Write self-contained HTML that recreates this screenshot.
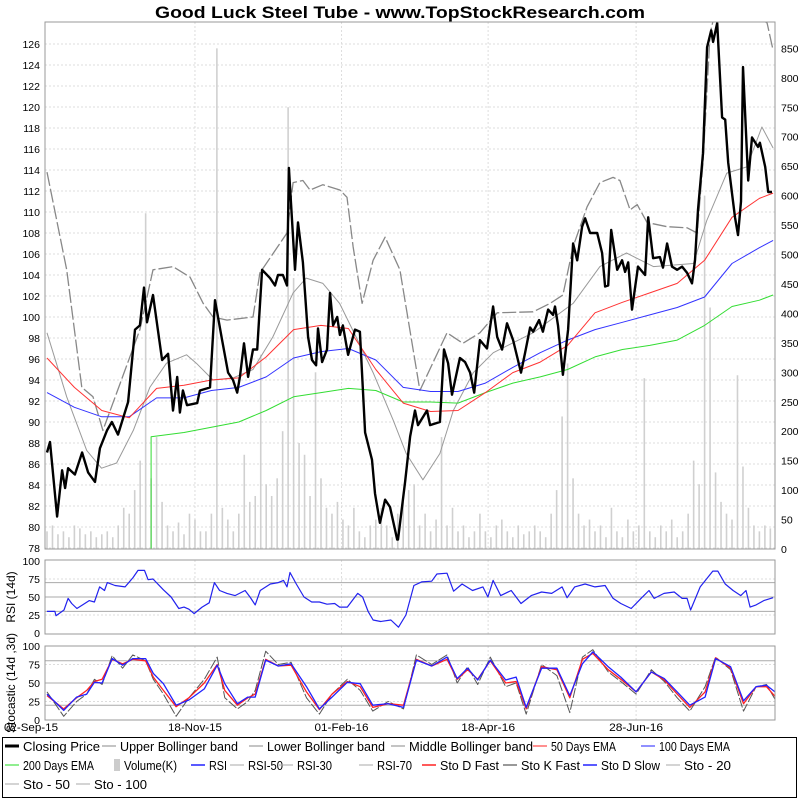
<!DOCTYPE html>
<html><head><meta charset="utf-8"><title>Good Luck Steel Tube chart</title>
<style>
html,body{margin:0;padding:0;background:#fff;}
svg{display:block;font-family:"Liberation Sans",sans-serif;}
</style></head>
<body>
<svg id="chart" width="800" height="800" viewBox="0 0 800 800" xmlns="http://www.w3.org/2000/svg">
<rect x="0" y="0" width="800" height="800" fill="#fff"/>
<text x="400" y="18" text-anchor="middle" font-size="17" font-weight="bold" textLength="490" lengthAdjust="spacingAndGlyphs">Good Luck Steel Tube - www.TopStockResearch.com</text>
<g id="main"></g>
<g id="rsi"></g>
<g id="sto"></g>
<g id="legend"></g>
</svg>
<script>
const priceDays=[0,1.1,3.7,5.5,6.6,7.7,10.2,12.8,15,17.5,19.3,21.9,23.7,25.9,29.6,32.1,33.9,35.4,36.5,38.7,42,44.2,46,47.5,48.5,49.6,51.1,54.8,55.8,58.4,59.5,61.3,63.9,66.1,67.9,69.4,70.4,71.9,73.4,75.2,76.7,78.5,81.4,83.2,84.3,86.1,87.6,88.3,90.5,91.6,93.4,95.3,96.7,98.2,98.9,100.4,102.2,103.3,104.4,105.9,106.9,108,109.9,112.4,114.2,116.1,118.6,119.7,121.5,123.4,125.2,127.8,128.1,130.7,132.5,134.3,135.4,138.7,139.8,143.4,144.9,146.4,147.8,150.7,152.6,154.4,155.9,158,160.6,162.8,164.3,166.1,167.9,170.1,173,174.5,176.3,177.4,179.6,181,182.9,184.7,185.4,186.5,188.3,190.2,192,193.5,195.3,196.4,198.2,200.8,202.6,203.7,204.8,205.9,208.1,209.9,211,212.1,213.5,215.7,218.3,219.4,221.2,223.7,224.8,226.3,228.1,230,231.8,233.6,235.4,236.5,237.6,239.4,240.9,242.4,243.1,244.6,246.4,247.5,248.6,251.1,252.2,253.3,254,255.9,257.3,259.5,260.2,262.1,263.2,264.6];
const price=[87.1,88.1,81,85.4,83.7,85.6,85,87.1,85.2,84.3,87.5,89.2,90,88.8,91.9,98.8,99.2,102.8,99.5,102.1,95.9,96.5,91.1,94.3,90.9,93,91.6,91.8,93,93.2,93.3,101.6,97.8,94.7,94,92.8,94.3,97.5,94.3,96.9,96.9,104.5,103.7,103,104,104,103,114.2,104.5,109,105.2,98.1,95.9,95.4,98.9,95.7,96.9,102.3,99.2,100,98.3,99.2,96.4,98.8,98.6,89,86.4,83.2,80.4,82.6,81.9,78.8,78.8,84.3,88.6,91.1,89.7,91.1,89.7,90,96.9,95.6,92.6,96.1,95.7,94.7,92.8,97.8,97,101,98.1,96.9,99.4,97.8,94.7,96.6,99,98.6,99.7,98.6,100.7,100.2,101,99.2,94.5,98.8,107,105.4,108.6,109.4,108,108,106.1,102.9,103,108.3,104.5,105.4,104.3,105.2,100.7,104.8,104,109.5,105.6,105.7,104.7,107,104.8,104.5,104.8,104.2,103.2,105.4,110.2,115.6,125.7,127.3,126.2,128,119,118.8,114.7,109.5,107.8,111,123.8,113,117.1,116.2,116.6,114.3,111.9,111.9];
const emaDays=[0,10,20,30,40,50,60,70,80,90,100,110,120,130,140,150,160,170,180,190,200,210,220,230,240,250,260,265];
const ema50=[96.1,93.3,91.1,90.4,93.2,93.5,94,94.2,96.2,98.8,99.2,98.9,95,91.8,91,91.1,92.8,94.7,95.7,97.3,100.4,101.4,102.3,103.2,105.4,109.5,111.3,111.8];
const ema100=[92.8,91.4,90.5,90.5,92.3,92.3,93,93.3,94.3,96.1,96.7,97,95.9,93.3,92.9,92.9,93.7,95.2,96.6,97.8,98.8,99.5,100.2,100.9,101.9,105.1,106.6,107.3];
const ema200Days=[38,38,50,60,70,80,90,100,110,120,130,140,150,160,170,180,190,200,210,220,230,240,250,260,265];
const ema200=[77,88.6,89,89.5,90,91.1,92.4,92.8,93.2,93,91.9,91.9,91.8,92.8,93.7,94.3,95,96.2,96.9,97.3,97.8,99.2,101,101.6,102.1];
const upperDays=[0,7.2,12.7,16.8,20.4,33.9,38.7,46,52.2,57,60.6,65.7,75.2,77.7,87.6,89.8,93.4,96,100.7,106.9,109.5,111.7,115,119,123.4,128.8,136.1,146,151.8,158,164.3,177.4,183.6,188.3,192,197.1,201.8,206.6,209.1,212.8,215.4,219,226.3,233.6,237.3,239.4,242,245.6,262.8,265];
const upper=[113.8,104.5,93.3,92.4,89.2,98.8,104.5,104.8,103.8,101.3,100,99.7,100,104.2,108,112.8,113,112.1,112.6,112.1,111.4,106.7,101.3,105.4,107.6,104.5,93,98.5,97.5,98.5,100.4,100.5,101.3,102.1,106.7,110.5,112.8,113.3,113,110.2,110.7,109,108.6,108.5,108,114.7,127,131,128,125.4];
const middleDays=[0,7.2,14.5,19.9,25.4,31.5,37.5,43.6,50.9,54.5,60.6,67.9,75.2,82.4,89.8,94.6,100.7,106.8,112.8,119,126.3,131.1,137.2,143.4,148.3,155.6,162.9,177.4,192,201.8,211.5,221.3,235.9,240.8,248.1,255.4,260.9,265];
const middle=[98.5,92.4,87.3,85.6,86.1,89.2,93.3,95.6,96.4,95.6,94,94.2,95,98.1,102.3,103.7,103.2,101.3,98.1,94.7,90.2,87,84.5,87,91.1,94.7,96.6,98.5,101.3,104.8,106.1,104.8,105.1,109.2,113.7,114.3,118.1,116.1];
const volume=[30,40,25,30,20,40,35,25,30,20,25,30,20,40,70,60,100,150,570,120,190,80,40,30,45,25,60,50,30,30,60,850,70,50,30,60,160,80,90,330,110,90,120,200,750,460,180,160,90,300,120,70,60,80,50,40,70,30,20,40,50,70,40,20,60,80,100,110,40,60,30,50,190,40,70,30,40,20,30,60,30,20,40,50,30,20,40,25,30,40,30,20,60,100,225,315,120,60,40,50,30,40,20,70,30,20,50,30,40,290,30,20,40,30,50,20,30,60,150,110,600,410,130,80,60,50,295,140,70,40,30,40,35];
const priceTicks=[78,80,82,84,86,88,90,92,94,96,98,100,102,104,106,108,110,112,114,116,118,120,122,124,126];
const volTicks=[0,50,100,150,200,250,300,350,400,450,500,550,600,650,700,750,800,850];
const dateLabels=["02-Sep-15","18-Nov-15","01-Feb-16","18-Apr-16","28-Jun-16"];
const dateDays=[0,54,107.5,161,215];
const rsiDays=[0,2.9,3.3,6.2,7.7,9,10.9,13,15.4,17.3,19.2,21,22,24.8,28.5,31.4,33.2,35.6,36.9,38.7,42.5,45.3,48.1,50,51.8,53.7,56.6,59.2,61.1,63,65.7,68.6,72.3,74.1,76,77.8,81.5,84.4,86.3,87.6,88.7,91,93.8,96.6,99.4,102.2,105,106.8,109.6,113.4,115.2,117.2,119,121.8,125.5,128.3,131,133.9,136.7,140.4,142.3,146,148.4,151.5,155.3,159.1,160.9,162.8,165.6,169.4,173,176.7,180.5,184.2,188,189.8,192.6,196.4,200,203.7,206.6,209.4,213.2,216.8,219.7,221.6,225.2,228.9,231.8,233.6,234.9,238.4,243,244.8,247.5,250.4,253.2,255.1,256.6,258.8,261.6,265];
const rsi=[30,30,24,32,48,41,34,39,45,43,64,59,70,66,64,77,87,87,74,75,60,50,34,36,33,27,36,42,70,59,55,52,59,50,39,59,68,70,73,64,84,68,50,43,43,40,41,36,36,55,50,30,18,16,18,8,25,66,71,72,82,83,58,68,59,64,50,73,52,59,41,52,57,55,64,49,64,68,64,66,48,41,34,48,59,48,55,57,48,48,32,64,86,86,68,59,52,59,36,39,45,49];
const rsiTicks=[0,25,50,75,100];
const stoDays=[0,6.1,10.8,14.5,17.3,20.1,23.8,27.6,31.3,36,38.8,42.5,47.1,51.8,57.4,62.1,64.9,69.5,73.3,76,79.8,84.4,89.1,94.7,99.4,104,109.6,114.3,118.9,124.5,130.1,134.8,140.4,146,149.7,153.5,157.2,161.8,167.4,171.2,174.9,180.5,186.1,190.8,195.4,199.2,204.8,209.4,215,220.6,225.3,230,234.6,240.2,244,249.5,254.2,258.8,262.6,265.7];
const stoDSlow=[35,13,31,35,51,50,83,74,83,83,63,49,20,27,42,74,49,22,31,31,81,73,76,45,15,31,51,49,20,22,17,81,73,85,56,70,54,81,54,58,17,70,70,33,76,92,72,58,38,65,56,38,20,31,83,72,26,45,47,38];
const stoDFast=[33,15,30,40,52,55,82,76,82,80,58,40,18,30,50,75,40,20,30,35,82,73,74,38,14,35,52,45,17,22,20,82,73,82,55,68,55,80,50,52,15,72,68,30,82,90,68,55,38,65,54,35,17,38,84,70,22,45,45,32];
const stoKFast=[38,5,25,35,55,48,87,70,88,80,55,35,5,30,55,85,30,15,25,40,93,75,78,30,8,35,55,40,12,25,15,88,75,88,50,72,48,85,45,50,8,75,60,10,85,95,65,52,35,68,52,30,12,45,85,68,12,45,48,28];
const stoTicks=[0,25,50,75,100];

const NS="http://www.w3.org/2000/svg";
const L=45,R=775;
const xDay=d=>47+d*2.74;
const yPrice=p=>548-(p-78)*10.5;
const yVol=v=>549-v*0.589;
const yRsi=v=>633-v*0.72;
const ySto=v=>720-v*0.74;
function mk(parent,tag,attrs){const e=document.createElementNS(NS,tag);for(const k in attrs)e.setAttribute(k,attrs[k]);parent.appendChild(e);return e;}
function pathD(xs,ys,fx,fy){return xs.map((d,i)=>(i?'L':'M')+fx(d).toFixed(1)+','+fy(ys[i]).toFixed(1)).join('');}

const main=document.getElementById('main');
const rsiG=document.getElementById('rsi');
const stoG=document.getElementById('sto');
const legend=document.getElementById('legend');

const defs=mk(document.getElementById('chart'),'defs',{});
const cp=mk(defs,'clipPath',{id:'clipMain'});mk(cp,'rect',{x:L,y:22,width:R-L,height:527});
const cp2=mk(defs,'clipPath',{id:'clipRsi'});mk(cp2,'rect',{x:L,y:560,width:R-L,height:75});
const cp3=mk(defs,'clipPath',{id:'clipSto'});mk(cp3,'rect',{x:L,y:646,width:R-L,height:75});

priceTicks.forEach(t=>{
  const g=mk(main,'line',{x1:L,x2:R,y1:yPrice(t),y2:yPrice(t),stroke:'#ddd','stroke-dasharray':'2,2'});
  
  
  const tx=mk(main,'text',{x:40,y:yPrice(t)+4,'text-anchor':'end','font-size':'10.5'});
  tx.textContent=t;
  
  
});
volTicks.forEach(t=>{
  const tx=mk(main,'text',{x:781,y:yVol(t)+4,'font-size':'10.5'});
  tx.textContent=t;
  
  
});
[main,rsiG,stoG].forEach((g,pi)=>{
  const y1=[22,560,646][pi],y2=[549,634,720][pi];
  dateDays.forEach(d=>{
    if(d===0)return;
    const l=mk(g,'line',{x1:xDay(d),x2:xDay(d),y1:y1,y2:y2,stroke:'#ddd','stroke-dasharray':'2,2'});
    
    
  });
});

const mc=mk(main,'g',{'clip-path':'url(#clipMain)'});
volume.forEach((v,i)=>{
  const b=mk(mc,'rect',{x:xDay(i*2)-0.8,y:yVol(v),width:1.6,height:549-yVol(v),fill:'#d0d0d0'});
  
  
});
function line(g,xs,ys,fx,fy,attrs,name){
  const p=mk(g,'path',Object.assign({d:pathD(xs,ys,fx,fy),fill:'none','stroke-linejoin':'round'},attrs));
  
  
  return p;
}
line(mc,upperDays,upper,xDay,yPrice,{stroke:'#888','stroke-width':1.3,'stroke-dasharray':'14,3'},'upper-bollinger-band');
line(mc,middleDays,middle,xDay,yPrice,{stroke:'#9a9a9a','stroke-width':1},'middle-bollinger-band');
line(mc,ema200Days,ema200,xDay,yPrice,{stroke:'#33dd33','stroke-width':1},'ema-200-line');
line(mc,emaDays,ema100,xDay,yPrice,{stroke:'#3333ff','stroke-width':1},'ema-100-line');
line(mc,emaDays,ema50,xDay,yPrice,{stroke:'#ff3333','stroke-width':1},'ema-50-line');
line(mc,priceDays,price,xDay,yPrice,{stroke:'#000','stroke-width':2.4},'closing-price-line');
const f1=mk(main,'rect',{x:L,y:22,width:R-L,height:527,fill:'none',stroke:'#999'});



rsiTicks.forEach(t=>{
  if(t>0&&t<100){const g=mk(rsiG,'line',{x1:L,x2:R,y1:yRsi(t),y2:yRsi(t),stroke:'#ddd','stroke-dasharray':'2,2'});
  }
  const tx=mk(rsiG,'text',{x:40,y:yRsi(t)+4,'text-anchor':'end','font-size':'10.5'});
  tx.textContent=t;
  
  
});
[30,50,70].forEach(t=>{
  const g=mk(rsiG,'line',{x1:L,x2:R,y1:yRsi(t),y2:yRsi(t),stroke:'#aaa'});
  
  
});
const rc=mk(rsiG,'g',{'clip-path':'url(#clipRsi)'});
line(rc,rsiDays,rsi,xDay,yRsi,{stroke:'#2222ee','stroke-width':1.2},'rsi-line');
const f2=mk(rsiG,'rect',{x:L,y:560,width:R-L,height:74,fill:'none',stroke:'#999'});


const rl=mk(rsiG,'text',{x:0,y:0,transform:'translate(15,597) rotate(-90)','text-anchor':'middle','font-size':'12'});
rl.textContent='RSI (14d)';



stoTicks.forEach(t=>{
  if(t>0&&t<100){const g=mk(stoG,'line',{x1:L,x2:R,y1:ySto(t),y2:ySto(t),stroke:'#ddd','stroke-dasharray':'2,2'});
  }
  const tx=mk(stoG,'text',{x:40,y:ySto(t)+4,'text-anchor':'end','font-size':'10.5'});
  tx.textContent=t;
  
  
});
[20,50,80].forEach(t=>{
  const g=mk(stoG,'line',{x1:L,x2:R,y1:ySto(t),y2:ySto(t),stroke:'#aaa'});
  
  
});
const sc=mk(stoG,'g',{'clip-path':'url(#clipSto)'});
line(sc,stoDays,stoKFast,xDay,ySto,{stroke:'#555','stroke-width':1,'stroke-dasharray':'10,2'},'sto-k-fast-line');
line(sc,stoDays,stoDFast,xDay,ySto,{stroke:'#ff2222','stroke-width':1.3},'sto-d-fast-line');
line(sc,stoDays,stoDSlow,xDay,ySto,{stroke:'#2222ff','stroke-width':1.3},'sto-d-slow-line');
const f3=mk(stoG,'rect',{x:L,y:646,width:R-L,height:74,fill:'none',stroke:'#999'});


const sl=mk(stoG,'text',{x:0,y:0,transform:'translate(15,683) rotate(-90)','text-anchor':'middle','font-size':'12'});
sl.textContent='Stocastic (14d ,3d)';


dateLabels.forEach((lab,i)=>{
  const x=xDay(dateDays[i]);
  const tx=mk(stoG,'text',{x:i===0?4:x,y:731,'text-anchor':i===0?'start':'middle','font-size':'11',textLength:'54',lengthAdjust:'spacingAndGlyphs'});
  tx.textContent=lab;
  
  
});

const lf=mk(legend,'rect',{x:2.5,y:737.5,width:794,height:60,fill:'#fff',stroke:'#000'});


const items=[
 ['Closing Price',23,750,'#000',3,'line'],['Upper Bollinger band',120,750,'#888',1,'line'],['Lower Bollinger band',267,750,'#888',1,'line'],['Middle Bollinger band',409,750,'#888',1,'line'],['50 Days EMA',551,750,'#ff2222',1,'line'],['100 Days EMA',659,750,'#2222ff',1,'line'],
 ['200 Days EMA',23,769,'#22dd22',1,'line'],['Volume(K)',124,769,'#ccc',6,'box'],['RSI',209,769,'#2222ff',1.5,'line'],['RSI-50',248,769,'#aaa',1,'line'],['RSI-30',297,769,'#aaa',1,'line'],['RSI-70',377,769,'#aaa',1,'line'],['Sto D Fast',440,769,'#ff2222',1.5,'line'],['Sto K Fast',521,769,'#333',1,'line'],['Sto D Slow',601,769,'#2222ff',1.5,'line'],['Sto - 20',684,769,'#aaa',1,'line'],
 ['Sto - 50',23,788,'#aaa',1,'line'],['Sto - 100',94,788,'#aaa',1,'line']];
items.forEach(it=>{
  const g=mk(legend,'g',{});
  
  
  if(it[5]==='box') mk(g,'rect',{x:it[1]-10,y:it[2]-10,width:6,height:12,fill:it[3]});
  else mk(g,'line',{x1:it[1]-18,x2:it[1]-4,y1:it[2]-4,y2:it[2]-4,stroke:it[3],'stroke-width':it[4]});
  const t=mk(g,'text',{x:it[1],y:it[2]+1,'font-size':'13',textLength:(it[0].length*5.9).toFixed(0),lengthAdjust:'spacingAndGlyphs'});
  t.textContent=it[0];
});
</script>
</body></html>
